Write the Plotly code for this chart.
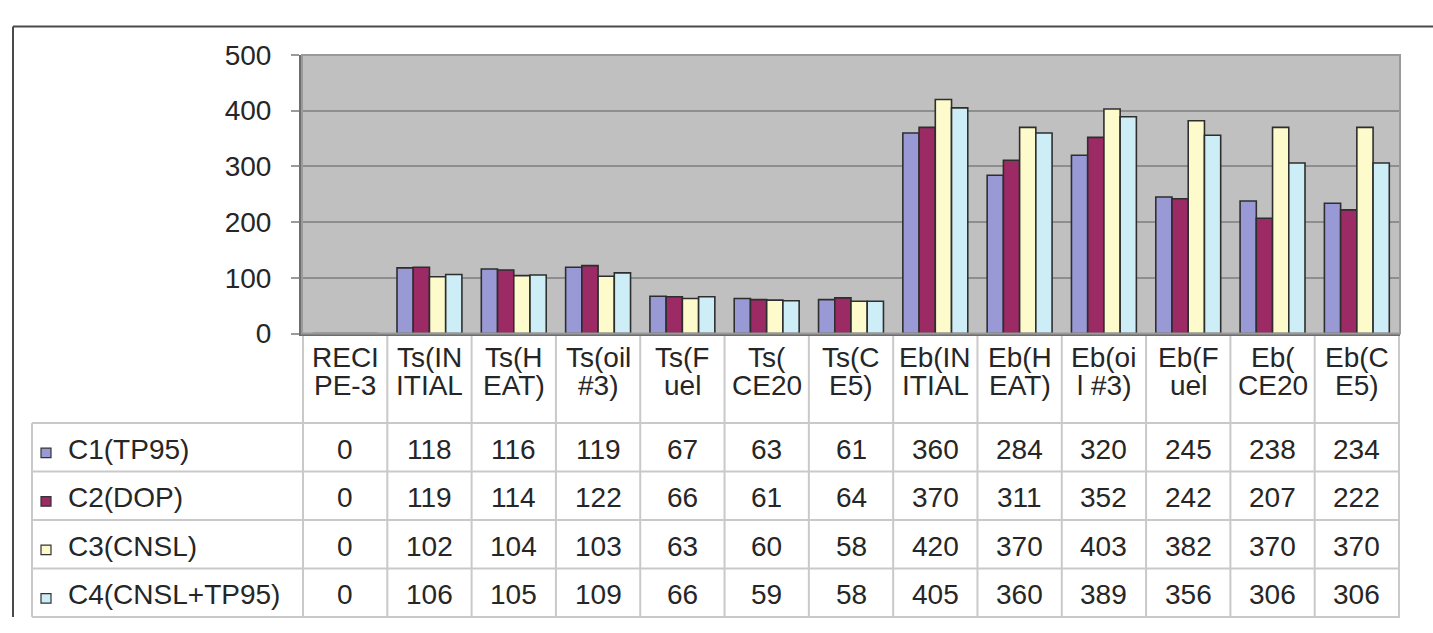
import plotly.graph_objects as go

# Category header lines (as wrapped in the data table under the chart)
header_top = ["RECI", "Ts(IN", "Ts(H", "Ts(oil", "Ts(F", "Ts(", "Ts(C",
              "Eb(IN", "Eb(H", "Eb(oi", "Eb(F", "Eb(", "Eb(C"]
header_bottom = ["PE-3", "ITIAL", "EAT)", "#3)", "uel", "CE20", "E5)",
                 "ITIAL", "EAT)", "l #3)", "uel", "CE20", "E5)"]
categories = [a + b for a, b in zip(header_top, header_bottom)]

series_names = ["C1(TP95)", "C2(DOP)", "C3(CNSL)", "C4(CNSL+TP95)"]
c1_tp95 = [0, 118, 116, 119, 67, 63, 61, 360, 284, 320, 245, 238, 234]
c2_dop = [0, 119, 114, 122, 66, 61, 64, 370, 311, 352, 242, 207, 222]
c3_cnsl = [0, 102, 104, 103, 63, 60, 58, 420, 370, 403, 382, 370, 370]
c4_cnsl_tp95 = [0, 106, 105, 109, 66, 59, 58, 405, 360, 389, 356, 306, 306]
series_values = [c1_tp95, c2_dop, c3_cnsl, c4_cnsl_tp95]

y_ticks = [0, 100, 200, 300, 400, 500]

colors = ["#9999d6", "#9c2a64", "#fdfacb", "#cdeef7"]

W, H = 1433, 633
FONT = "Liberation Sans, Arial, sans-serif"
TXT = "#262626"
GRID_LINE = "#c9c9c9"

def px(x):
    return x / W

def py(y):
    return 1 - y / H

PLOT_L, PLOT_R, PLOT_T, PLOT_B = 302, 1400, 42, 335
ROW_LINES = [429, 480, 531, 582, 633]
LABEL_L = 32

fig = go.Figure()
for name, vals, col in zip(series_names, series_values, colors):
    fig.add_trace(go.Bar(
        x=categories, y=vals, name=name,
        marker=dict(color=col, line=dict(color="#2e2e2e", width=1.6)),
        showlegend=False, hoverinfo="x+y+name",
    ))

shapes = []
annotations = []

# outer frame of the figure
shapes.append(dict(type="line", xref="paper", yref="paper",
                   x0=px(13), x1=px(W), y0=py(12), y1=py(12),
                   line=dict(color="#4a4a4a", width=2)))
shapes.append(dict(type="line", xref="paper", yref="paper",
                   x0=px(13), x1=px(13), y0=py(12), y1=py(H),
                   line=dict(color="#4a4a4a", width=2)))

# data table: vertical column separators aligned to the category axis
n = len(categories)
for k in range(n + 1):
    shapes.append(dict(type="line", xref="x", yref="paper",
                       x0=k - 0.5, x1=k - 0.5, y0=py(PLOT_B), y1=py(H),
                       line=dict(color=GRID_LINE, width=2), layer="below"))
shapes.append(dict(type="line", xref="paper", yref="paper",
                   x0=px(LABEL_L), x1=px(LABEL_L), y0=py(ROW_LINES[0]), y1=py(H),
                   line=dict(color=GRID_LINE, width=2)))
for yl in ROW_LINES:
    shapes.append(dict(type="line", xref="paper", yref="paper",
                       x0=px(LABEL_L), x1=px(PLOT_R), y0=py(yl), y1=py(yl),
                       line=dict(color=GRID_LINE, width=2)))

# header cells (two wrapped lines per category)
for cat, top, bot in zip(categories, header_top, header_bottom):
    annotations.append(dict(x=cat, xref="x", y=py(360), yref="paper",
                            text=top, showarrow=False, yanchor="middle",
                            font=dict(family=FONT, size=28, color=TXT)))
    annotations.append(dict(x=cat, xref="x", y=py(390), yref="paper",
                            text=bot, showarrow=False, yanchor="middle",
                            font=dict(family=FONT, size=28, color=TXT)))

# value rows with legend keys
for r, (name, vals, col) in enumerate(zip(series_names, series_values, colors)):
    yc = (ROW_LINES[r] + ROW_LINES[r + 1]) / 2 + 2
    shapes.append(dict(type="rect", xref="paper", yref="paper",
                       x0=px(41), x1=px(51), y0=py(yc + 9), y1=py(yc - 1),
                       fillcolor=col, line=dict(color="#333333", width=1.2)))
    annotations.append(dict(x=px(66), xref="paper", y=py(yc), yref="paper",
                            text=name, showarrow=False, xanchor="left",
                            yanchor="middle",
                            font=dict(family=FONT, size=28, color=TXT)))
    for cat, v in zip(categories, vals):
        annotations.append(dict(x=cat, xref="x", y=py(yc), yref="paper",
                                text=str(v), showarrow=False, yanchor="middle",
                                font=dict(family=FONT, size=28, color=TXT)))

# plot-area border
shapes.append(dict(type="rect", xref="paper", yref="paper",
                   x0=px(PLOT_L), x1=px(PLOT_R), y0=py(PLOT_B), y1=py(PLOT_T),
                   line=dict(color="#9a9a9a", width=2)))

fig.update_layout(
    width=W, height=H,
    margin=dict(l=0, r=0, t=0, b=0),
    paper_bgcolor="white",
    plot_bgcolor="#c0c0c0",
    barmode="group",
    bargap=0.23,
    bargroupgap=0,
    font=dict(family=FONT, size=28, color=TXT),
    xaxis=dict(domain=[px(PLOT_L), px(PLOT_R)], type="category",
               categoryorder="array", categoryarray=categories,
               showticklabels=False, ticks="", showgrid=False,
               showline=True, linecolor="#6e6e6e", linewidth=2,
               zeroline=False),
    yaxis=dict(domain=[py(PLOT_B), py(PLOT_T)], range=[0, 500],
               tickvals=y_ticks, ticks="outside", ticklen=8,
               tickcolor="#9a9a9a", tickwidth=2,
               ticklabelstandoff=14,
               tickfont=dict(family=FONT, size=28, color=TXT),
               showgrid=True, gridcolor="#8e8e8e", gridwidth=2,
               showline=True, linecolor="#6e6e6e", linewidth=3,
               zeroline=False),
    shapes=shapes,
    annotations=annotations,
)

fig.write_html("out.html")
